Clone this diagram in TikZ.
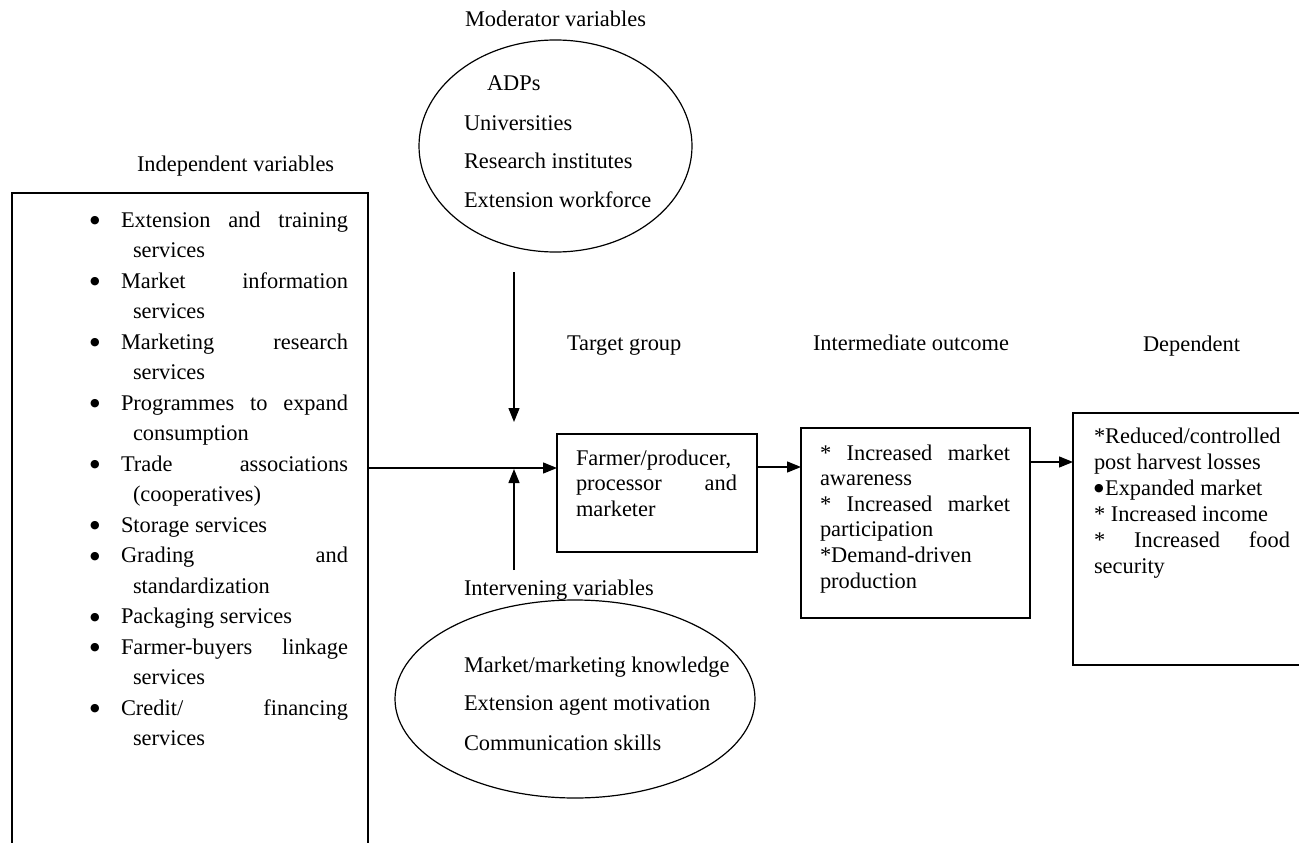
\documentclass[tikz,border=0pt]{standalone}
\usepackage{fontspec}
\setmainfont{Liberation Serif}
\newfontfamily\dejavu{DejaVu Sans}
\usetikzlibrary{arrows.meta,shapes.geometric}
\newcommand\bigbul{\raisebox{3.3pt}{\dejavu\fontsize{11}{11}\selectfont ●}}
\newcommand\mybul{\llap{\hbox to 31pt{\bigbul\hfil}}}
\begin{document}
\begin{tikzpicture}[x=1pt,y=-1pt,
  every node/.style={inner sep=0pt,outer sep=0pt,font=\fontsize{22.4}{26}\selectfont},
  frame/.style={draw,line width=1.3pt,rectangle,anchor=north west},
  oval/.style={draw,line width=1.2pt,ellipse},
  arr/.style={line width=1.3pt,-{Triangle[length=14pt,width=11pt]}},
  lbl/.style={anchor=base west}]
\useasboundingbox (0,0) rectangle (1299,843);
\fill[white] (0,0) rectangle (1299,843);
% boxes
\node[frame,minimum width=356pt,minimum height=700pt] (indep) at (12,193) {};
\node[frame,minimum width=200pt,minimum height=118pt] (farmer) at (557,434) {};
\node[frame,minimum width=229pt,minimum height=190pt] (inter) at (801,428) {};
\node[frame,minimum width=260pt,minimum height=252pt] (dep) at (1073,413) {};
\node[oval,minimum width=273pt,minimum height=212pt] (moder) at (555.5,146) {};
\node[oval,minimum width=360pt,minimum height=198pt] (interv) at (575,699) {};
% labels
\node[lbl] (indeplbl) at (137,171) {Independent variables};
\node[lbl] (moderlbl) at (465,27) {Moderator variables};
\node[lbl] (targetlbl) at (567,350) {Target group};
\node[lbl] (interlbl) at (813,350) {Intermediate outcome};
\node[lbl] (deplbl) at (1143,351) {Dependent};
\node[lbl] (intervlbl) at (464,595) {Intervening variables};
% moderator texts
\node[lbl] (m1) at (487,91) {ADPs};
\node[lbl] (m2) at (464,130) {Universities};
\node[lbl] (m3) at (464,168) {Research institutes};
\node[lbl] (m4) at (464,207) {Extension workforce};
% intervening texts
\node[lbl] (v1) at (464,672) {Market/marketing knowledge};
\node[lbl] (v2) at (464,710) {Extension agent motivation};
\node[lbl] (v3) at (464,750) {Communication skills};
% independent list
\node[lbl] (indeplist) at (121,227) {\vtop{\baselineskip=30.5pt
 \hbox to 227pt{\mybul Extension\hfill and\hfill training}
 \hbox{\kern12pt services}
 \hbox to 227pt{\mybul Market\hfill information}
 \hbox{\kern12pt services}
 \hbox to 227pt{\mybul Marketing\hfill research}
 \hbox{\kern12pt services}
 \hbox to 227pt{\mybul Programmes\hfill to\hfill expand}
 \hbox{\kern12pt consumption}
 \hbox to 227pt{\mybul Trade\hfill associations}
 \hbox{\kern12pt (cooperatives)}
 \hbox{\mybul Storage services}
 \hbox to 227pt{\mybul Grading\hfill and}
 \hbox{\kern12pt standardization}
 \hbox{\mybul Packaging services}
 \hbox to 227pt{\mybul Farmer-buyers\hfill linkage}
 \hbox{\kern12pt services}
 \hbox to 227pt{\mybul Credit/\hfill financing}
 \hbox{\kern12pt services}}};
% farmer text
\node[lbl] (farmertxt) at (576,465) {\vtop{\baselineskip=25.7pt
 \hbox{Farmer/producer,}
 \hbox to 161pt{processor\hfill and}
 \hbox{marketer}}};
% intermediate text
\node[lbl] (intertxt) at (820,460) {\vtop{\baselineskip=25.6pt
 \hbox to 190pt{*\hfill Increased\hfill market}
 \hbox{awareness}
 \hbox to 190pt{*\hfill Increased\hfill market}
 \hbox{participation}
 \hbox{*Demand-driven}
 \hbox{production}}};
% dependent text
\node[lbl] (deptxt) at (1094,443) {\vtop{\baselineskip=26pt
 \hbox{*Reduced/controlled}
 \hbox{post harvest losses}
 \hbox{\bigbul\kern1.5pt Expanded market}
 \hbox{* Increased income}
 \hbox to 196pt{*\hfill Increased\hfill food}
 \hbox{security}}};
% connectors
\coordinate (y1) at (0,468);
\coordinate (y2) at (0,467);
\coordinate (y3) at (0,462);
\coordinate (mtop) at (514,272);
\coordinate (mend) at (514,422);
\coordinate (ibot) at (514,570);
\coordinate (iend) at (514,469);
\draw[arr] (indep.east |- y1) -- (farmer.west |- y1);
\draw[arr] (farmer.east |- y2) -- (inter.west |- y2);
\draw[arr] (inter.east |- y3) -- (dep.west |- y3);
\draw[arr] (mtop) -- (mend);
\draw[arr] (ibot) -- (iend);
\end{tikzpicture}
\end{document}
